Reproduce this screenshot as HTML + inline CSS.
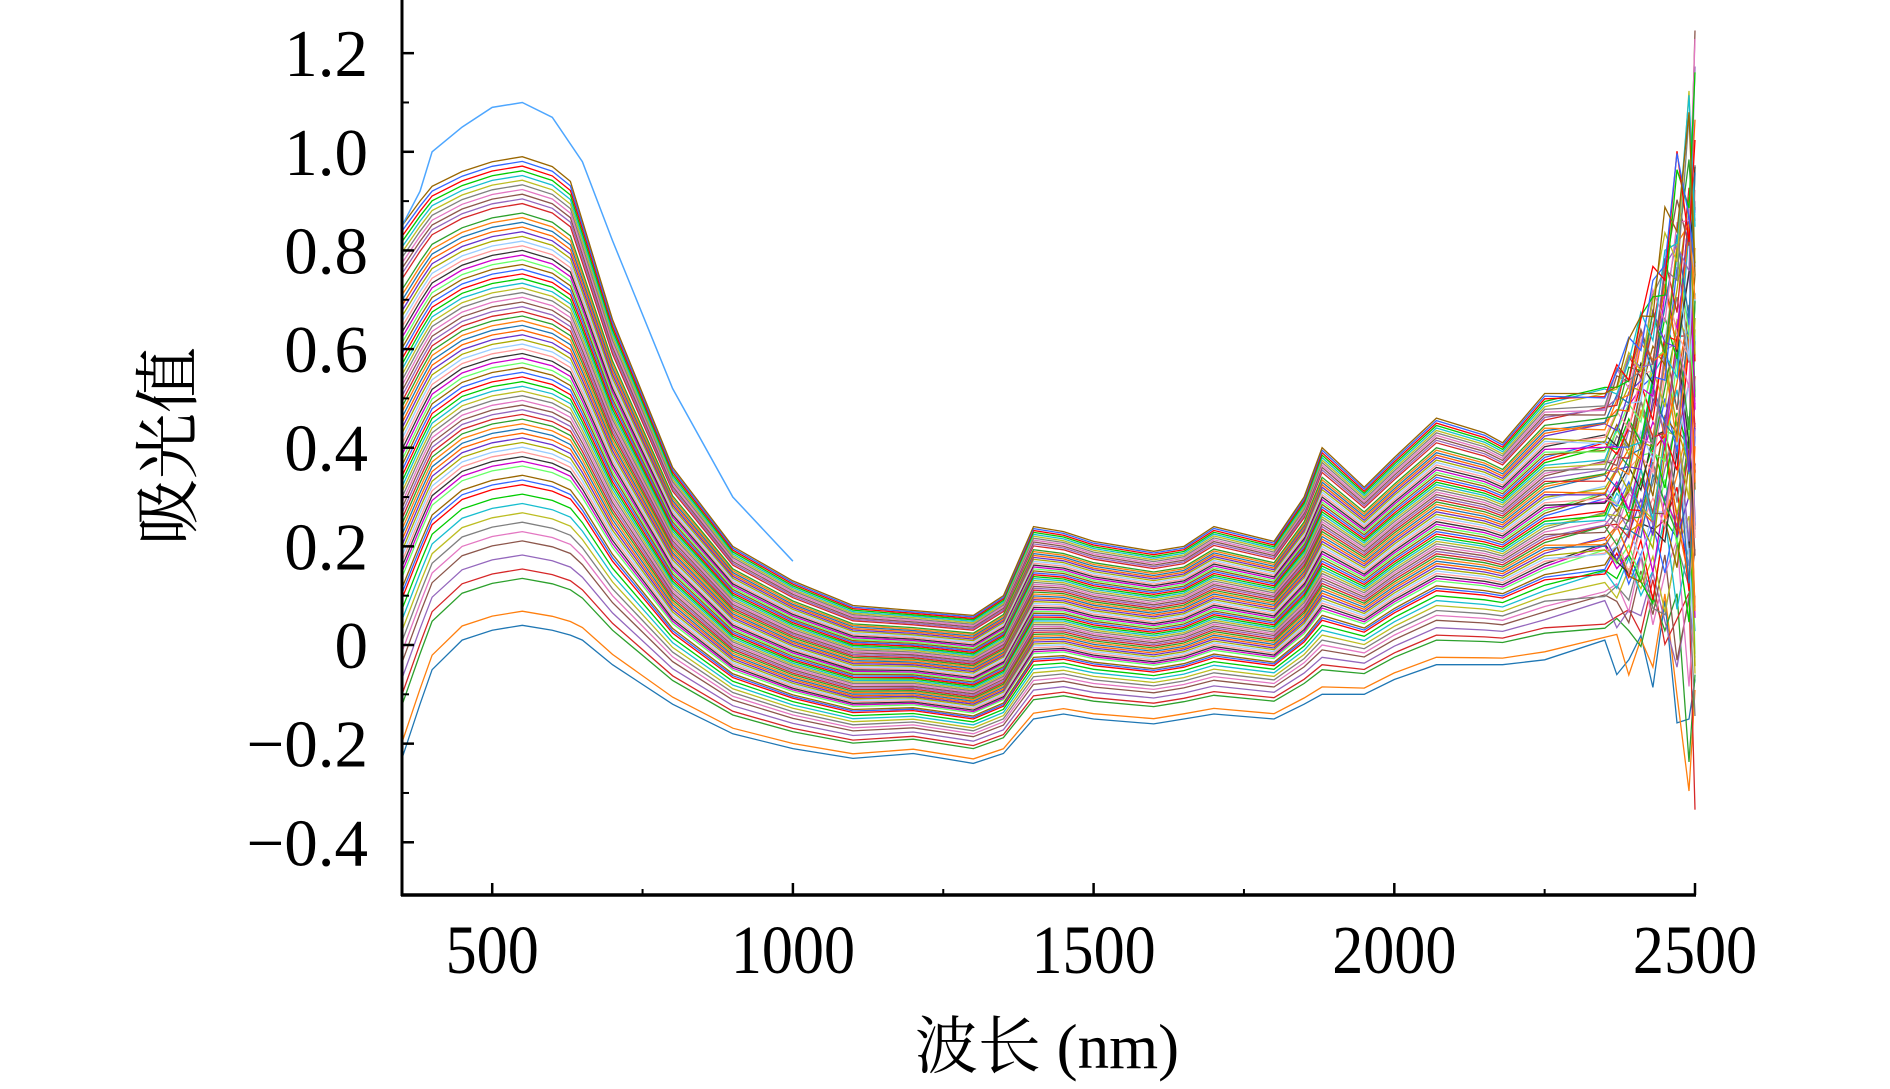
<!DOCTYPE html>
<html><head><meta charset="utf-8">
<style>
html,body{margin:0;padding:0;background:#fff;}
svg{display:block;}
text{font-family:"Liberation Serif","Noto Serif CJK SC",serif;fill:#000;}
</style></head>
<body>
<svg id="chart" width="1890" height="1089" viewBox="0 0 1890 1089" xmlns="http://www.w3.org/2000/svg">
<g id="plot"></g>
<g id="axes"></g>
<text x="0" y="0" font-size="66" text-anchor="middle" transform="translate(191,446) rotate(-90)">吸光值</text>
<text x="1047" y="1068" font-size="63" text-anchor="middle">波长 (nm)</text>
</svg>
<script>
const wavelengths=[350,380,400,450,500,550,600,630,650,700,800,900,1000,1100,1200,1300,1350,1400,1450,1500,1600,1650,1700,1800,1850,1880,1950,2000,2070,2150,2180,2250,2350,2370,2390,2410,2430,2450,2470,2490,2500];
const topCurve=[0.85,0.9,0.93,0.96,0.98,0.99,0.97,0.94,0.86,0.66,0.36,0.20,0.13,0.08,0.07,0.06,0.10,0.24,0.23,0.21,0.19,0.20,0.24,0.21,0.30,0.40,0.32,0.38,0.46,0.43,0.41,0.51,0.52,0.56,0.60,0.66,0.72,0.80,0.88,0.98,1.05];
const bottomCurve=[-0.23,-0.12,-0.05,0.01,0.03,0.04,0.03,0.02,0.01,-0.04,-0.12,-0.18,-0.21,-0.23,-0.22,-0.24,-0.22,-0.15,-0.14,-0.15,-0.16,-0.15,-0.14,-0.15,-0.12,-0.10,-0.10,-0.07,-0.04,-0.04,-0.04,-0.03,0.0,-0.02,-0.04,-0.03,-0.05,-0.02,-0.06,-0.15,-0.25];
const noiseAmp=[0,0,0,0,0,0,0,0,0,0,0,0,0,0,0,0,0,0,0,0,0,0,0,0,0,0,0,0,0,0,0,0,0.02,0.04,0.05,0.07,0.09,0.11,0.14,0.2,0.3];
const jitter=[0.6,-0.8,0.3,-0.2,0.9,-0.5,-0.9,0.4,0.1,-0.6,0.8,-0.3,0.5,-1.0,0.2,0.7,-0.4,1.0,-0.7,0.0];
const mixFractions=[0.0,0.03,0.1,0.12,0.15,0.18,0.2,0.22,0.24,0.26,0.28,0.3,0.31,0.32,0.34,0.35,0.36,0.37,0.38,0.39,0.4,0.41,0.42,0.43,0.44,0.45,0.46,0.47,0.48,0.49,0.5,0.51,0.52,0.53,0.54,0.55,0.56,0.57,0.58,0.59,0.6,0.61,0.62,0.63,0.64,0.65,0.66,0.67,0.68,0.69,0.7,0.71,0.72,0.73,0.74,0.75,0.76,0.77,0.78,0.79,0.8,0.81,0.82,0.83,0.84,0.85,0.86,0.87,0.88,0.9,0.91,0.92,0.93,0.94,0.95,0.96,0.97,0.98,0.99,1.0];
const outlierWl=[350,380,400,450,500,550,600,650,700,800,900,1000];
const outlierVals=[0.85,0.92,1.0,1.05,1.09,1.1,1.07,0.98,0.82,0.52,0.30,0.17];
const xTicks=[500,1000,1500,2000,2500];
const xMinor=[750,1250,1750,2250];
const yTicks=[-0.4,-0.2,0,0.2,0.4,0.6,0.8,1.0,1.2];
const yLabels=["\u22120.4","\u22120.2","0","0.2","0.4","0.6","0.8","1.0","1.2"];
const colors=["#1f77b4","#ff7f0e","#2ca02c","#d62728","#9467bd","#8c564b","#e377c2","#7f7f7f","#bcbd22","#17becf","#00cc00","#ff0000","#3366ff","#996600","#66ff66","#cc00cc","#333333","#ff9999","#99ccff","#aaaa00","#6633cc","#ff6600"];

const NS="http://www.w3.org/2000/svg";
const X0=402,X1=1695,Y0=645,YS=493.2,YB=895;
function xs(v){return X0+(v-350)*(X1-X0)/2150;}
function ys(v){return Y0-v*YS;}
const plot=document.getElementById('plot');
const axes=document.getElementById('axes');

mixFractions.forEach((f,i)=>{
  let d='';
  wavelengths.forEach((w,j)=>{
    const v=bottomCurve[j]+f*(topCurve[j]-bottomCurve[j])+noiseAmp[j]*jitter[(i*7+j)%jitter.length];
    d+=(j?'L':'M')+xs(w).toFixed(1)+','+ys(v).toFixed(1);
  });
  const p=document.createElementNS(NS,'path');
  p.setAttribute('d',d);
  p.setAttribute('fill','none');
  p.setAttribute('stroke',colors[i%colors.length]);
  p.setAttribute('stroke-width','1.3');
  
  
  plot.appendChild(p);
});
{
  let d='';
  outlierWl.forEach((w,j)=>{d+=(j?'L':'M')+xs(w).toFixed(1)+','+ys(outlierVals[j]).toFixed(1);});
  const p=document.createElementNS(NS,'path');
  p.setAttribute('d',d);p.setAttribute('fill','none');p.setAttribute('stroke','#4da6ff');p.setAttribute('stroke-width','1.5');
  
  
  plot.appendChild(p);
}
function line(x1,y1,x2,y2,w,name){
  const l=document.createElementNS(NS,'line');
  l.setAttribute('x1',x1);l.setAttribute('y1',y1);l.setAttribute('x2',x2);l.setAttribute('y2',y2);
  l.setAttribute('stroke','#000');l.setAttribute('stroke-width',w);
  
  
  axes.appendChild(l);
}
line(X0,0,X0,YB+1,3,'y-axis-line');
line(X0-1,YB,X1+1,YB,3.5,'x-axis-line');
xTicks.forEach(t=>{
  line(xs(t),YB,xs(t),YB-12,2.5,'x-tick');
  const tx=document.createElementNS(NS,'text');
  tx.setAttribute('x',xs(t));tx.setAttribute('y',973);tx.setAttribute('font-size','69');
  tx.setAttribute('text-anchor','middle');
  tx.setAttribute('transform','translate('+xs(t)+',0) scale(0.9,1) translate('+(-xs(t))+',0)');
  tx.textContent=t;
  
  
  axes.appendChild(tx);
});
xMinor.forEach(t=>line(xs(t),YB,xs(t),YB-6,2,'x-minor-tick'));
yTicks.forEach((t,i)=>{
  line(X0,ys(t),X0+12,ys(t),2.5,'y-tick');
  const tx=document.createElementNS(NS,'text');
  tx.setAttribute('x',368);tx.setAttribute('y',ys(t)+23);tx.setAttribute('font-size','67');
  tx.setAttribute('text-anchor','end');
  tx.textContent=yLabels[i];
  
  
  axes.appendChild(tx);
});
[1.1,0.9,0.7,0.5,0.3,0.1,-0.1,-0.3].forEach(t=>line(X0,ys(t),X0+7,ys(t),2,'y-minor-tick'));
</script>
</body></html>
